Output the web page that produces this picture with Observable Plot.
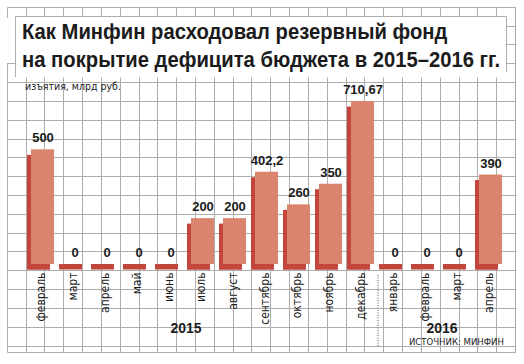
<!DOCTYPE html>
<html>
<head>
<meta charset="utf-8">
<script src="https://cdn.jsdelivr.net/npm/d3@7"></script>
<script src="https://cdn.jsdelivr.net/npm/@observablehq/plot@0.6"></script>
<style>
html, body { margin: 0; padding: 0; background: #fff; }
#wrap { position: relative; width: 524px; height: 364px; overflow: hidden; background: #fff; }
#chart { position: absolute; left: 0; top: 0; width: 524px; height: 364px; }
</style>
</head>
<body>
<div id="wrap">
  <div id="chart"></div>
</div>
<script>
// ---- data ----
const keys = ["2015-02","2015-03","2015-04","2015-05","2015-06","2015-07","2015-08","2015-09","2015-10","2015-11","2015-12","2016-01","2016-02","2016-03","2016-04"];
const months = ["февраль","март","апрель","май","июнь","июль","август","сентябрь","октябрь","ноябрь","декабрь","январь","февраль","март","апрель"];
const values = [500, 0, 0, 0, 0, 200, 200, 402.2, 260, 350, 710.67, 0, 0, 0, 390];
const valueLabels = ["500","0","0","0","0","200","200","402,2","260","350","710,67","0","0","0","390"];
const yearLabels = ["2015", "2016"];
const yearAnchors = ["2015-06", "2016-02"];
const titleLines = ["Как Минфин расходовал резервный фонд", "на покрытие дефицита бюджета в 2015–2016 гг."];
const unitText = "изъятия, млрд руб.";
const sourceText = "ИСТОЧНИК: МИНФИН";

const FRONT = "#da846e", SIDE = "#c2463c", GRIDC = "#adadad";
const NARROW = "'Liberation Sans Narrow','DejaVu Sans Condensed','Arial Narrow',sans-serif";
const SANS = "'Liberation Sans',Arial,Helvetica,sans-serif";

const data = keys.map((k, i) => ({key: k, month: months[i], value: values[i], label: valueLabels[i]}));
const years = yearLabels.map((y, i) => ({year: y, key: yearAnchors[i]}));

const plot = Plot.plot({
  width: 524,
  height: 364,
  marginLeft: 29.25,
  marginRight: 20.55,
  marginTop: 80.5,
  marginBottom: 100,
  x: {type: "band", domain: keys, paddingInner: 0.27, paddingOuter: 0, axis: null},
  y: {domain: [0, 800], axis: null},
  marks: [
    // extruded side and base (darker), then the front face
    Plot.barY(data, {x: "key", y1: d => 0, y2: "value", dx: -4, dy: 5.5, fill: SIDE}),
    Plot.barY(data, {x: "key", y1: d => 0, y2: d => 0, insetBottom: -5.5, dx: -4, fill: SIDE}),
    Plot.barY(data, {x: "key", y: "value", fill: FRONT}),
    Plot.text(data, {x: "key", y: "value", text: "label", lineAnchor: "bottom", dy: -7.5,
      fontSize: 13, fontWeight: "bold", fontFamily: SANS, fill: "#1b1b1b"}),
    Plot.text(data, {x: "key", y: d => 0, text: "month", rotate: -90, textAnchor: "end", lineAnchor: "middle",
      dx: -2, dy: 8, fontSize: 12, fontFamily: NARROW, fill: "#1b1b1b"}),
    Plot.text(years, {x: "key", y: d => 0, text: "year", dx: 15, dy: 64, lineAnchor: "middle",
      fontSize: 14, fontWeight: "bold", fontFamily: SANS, fill: "#1b1b1b"}),
    Plot.ruleX([{key: "2016-01"}], {x: "key", dx: -17, insetTop: 194.5, insetBottom: -83,
      stroke: "#8a8a8a", strokeWidth: 1.5, strokeDasharray: "1,1.5"}),
    Plot.text([{t: sourceText}], {text: "t", frameAnchor: "bottom-right", textAnchor: "end", lineAnchor: "bottom",
      dy: 80, fontSize: 9.5, fontFamily: NARROW, fill: "#1b1b1b"})
  ]
});
document.getElementById("chart").appendChild(plot);

// ---- background layer (graph paper, title) inside the same SVG, below the marks ----
const ns = "http://www.w3.org/2000/svg";
const bgNode = document.createElementNS(ns, "g");
plot.insertBefore(bgNode, plot.querySelector("g"));
const bg = d3.select(bgNode);

const cell = 18.83, g0 = 6.7;
const vx = d3.range(0, 28).map(k => Math.round(g0 + k * cell) + 0.5);
const hy = d3.range(0, 19).map(k => Math.round(g0 + k * cell) + 0.5).concat([352.5]);
const top0 = 7.5, bot0 = 352.5, left0 = vx[0], right0 = vx[vx.length - 1];
const boxL = 15.5, boxT = 16.5, boxR = 506.5, boxB = 77.5;
const segs = [];
vx.forEach(x => {
  if (x < boxL) { segs.push([x, top0, x, 18]); segs.push([x, 63, x, bot0]); }
  else if (x > boxR) segs.push([x, top0, x, bot0]);
  else { segs.push([x, top0, x, boxT]); segs.push([x, boxB, x, bot0]); }
});
hy.forEach(y => {
  if (y > boxT && y < boxB) {
    if (y > 60) segs.push([left0, y, boxL, y]);
    segs.push([boxR, y, right0, y]);
  } else segs.push([left0, y, right0, y]);
});
bg.append("g").attr("stroke", GRIDC).attr("stroke-width", 1)
  .selectAll("line").data(segs).join("line")
  .attr("x1", d => d[0]).attr("y1", d => d[1]).attr("x2", d => d[2]).attr("y2", d => d[3]);
bg.append("path").attr("d", "M15.5,77 V16.5 H506.5 V72").attr("fill", "none").attr("stroke", GRIDC);

// title and unit
const tg = bg.append("g").attr("font-family", SANS).attr("font-weight", "bold").attr("font-size", 21.5)
  .attr("fill", "#1b1b1b").attr("text-anchor", "start");
const t1 = tg.append("text").attr("x", 22).attr("y", 38.5).text(titleLines[0]);
const t2 = tg.append("text").attr("x", 22).attr("y", 66.5).text(titleLines[1]);
const w2 = t2.node().getComputedTextLength();
if (w2 > 0) {
  const sc = 478 / w2;
  t1.attr("textLength", t1.node().getComputedTextLength() * sc).attr("lengthAdjust", "spacingAndGlyphs");
  t2.attr("textLength", 478).attr("lengthAdjust", "spacingAndGlyphs");
}
bg.append("text").attr("x", 25).attr("y", 90).attr("font-family", NARROW).attr("font-size", 10.5)
  .attr("fill", "#222").attr("text-anchor", "start").text(unitText);
</script>
</body>
</html>
